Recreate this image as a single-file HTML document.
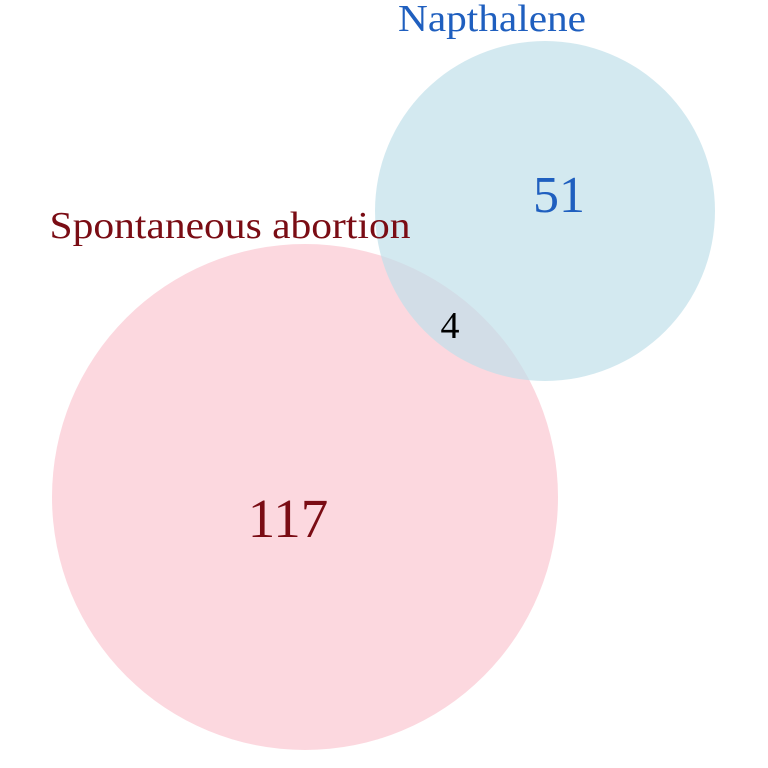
<!DOCTYPE html>
<html>
<head>
<meta charset="utf-8">
<style>
  html,body{margin:0;padding:0;background:#fff;}
  svg{display:block;}
  text{font-family:"Liberation Serif","DejaVu Serif",serif;}
</style>
</head>
<body>
<svg id="chart" width="768" height="768" viewBox="0 0 768 768" xmlns="http://www.w3.org/2000/svg"></svg>
<script>
const setNames = ["Spontaneous abortion", "Napthalene"];
const onlyCounts = [117, 51];
const overlapCount = [4];
const setColors = ["#fbc7d2", "#c0dfea"];
const labelColors = ["#7a0c14", "#1f5fbf"];

const svg = document.getElementById('chart');
const NS = "http://www.w3.org/2000/svg";
const circles = [{cx:305, cy:497, r:253}, {cx:545, cy:211, r:170}];

circles.forEach((c, i) => {
  const el = document.createElementNS(NS, 'circle');
  el.setAttribute('cx', c.cx); el.setAttribute('cy', c.cy); el.setAttribute('r', c.r);
  el.setAttribute('fill', setColors[i]);
  el.setAttribute('fill-opacity', '0.7');
  
  
  svg.appendChild(el);
});

function addText(x, y, str, size, color, name, len) {
  const t = document.createElementNS(NS, 'text');
  t.setAttribute('x', x); t.setAttribute('y', y);
  t.setAttribute('text-anchor', 'middle');
  t.setAttribute('font-size', size);
  t.setAttribute('fill', color);
  if (len) { t.setAttribute('textLength', len); t.setAttribute('lengthAdjust', 'spacingAndGlyphs'); }
  t.textContent = str;
  
  
  svg.appendChild(t);
}

addText(230, 238, setNames[0], 38, labelColors[0], 'spontaneous-abortion-label', 361);
addText(492, 31, setNames[1], 38, labelColors[1], 'napthalene-label', 188);
addText(288, 537, String(onlyCounts[0]), 55, labelColors[0], 'spontaneous-abortion-only-count');
addText(559, 212, String(onlyCounts[1]), 52, labelColors[1], 'napthalene-only-count');
addText(450, 338, String(overlapCount[0]), 38, '#000', 'overlap-count');
</script>
</body>
</html>
